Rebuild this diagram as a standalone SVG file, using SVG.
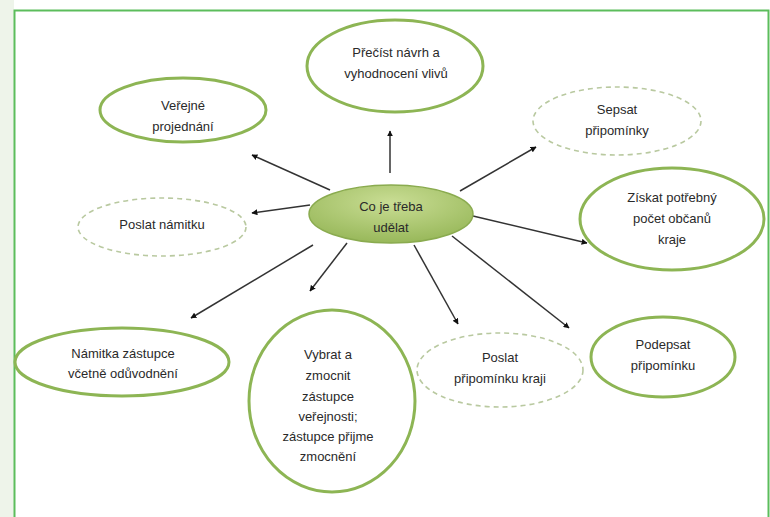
<svg xmlns="http://www.w3.org/2000/svg" width="770" height="517" viewBox="0 0 770 517">
<defs>
<style>
.t{font-family:"Liberation Sans",Arial,sans-serif;font-size:13px;fill:#2a2a2a;text-anchor:middle;}
.solid{fill:#fff;stroke:#8db554;stroke-width:3;}
.dash{fill:#fff;stroke:#b9c9a0;stroke-width:1.6;stroke-dasharray:5 4;}
.c{stroke:#333;stroke-width:1.5;fill:none;marker-end:url(#ah);}
</style>
<marker id="ah" viewBox="0 0 10 10" refX="9" refY="5" markerWidth="6" markerHeight="6" orient="auto" markerUnits="userSpaceOnUse">
<path d="M0,0 L10,5 L0,10 z" fill="#111"/>
</marker>
<radialGradient id="g" cx="50%" cy="30%" r="70%">
<stop offset="0" stop-color="#c9dd94"/>
<stop offset="1" stop-color="#98b85a"/>
</radialGradient>
</defs>
<rect x="0" y="0" width="770" height="517" fill="#fff"/>
<rect x="0" y="0" width="14" height="517" fill="#eef4ea"/>
<path d="M14.5,517 L14.5,10.5 L768.5,10.5 L768.5,517" fill="none" stroke="#5cbd5c" stroke-width="2"/>
<g id="connectors">
<line class="c" x1="330" y1="190" x2="252" y2="155"/>
<line class="c" x1="310" y1="205" x2="252" y2="213"/>
<line class="c" x1="390" y1="173" x2="390" y2="131"/>
<line class="c" x1="460" y1="191" x2="536" y2="147"/>
<line class="c" x1="473" y1="216" x2="587" y2="243"/>
<line class="c" x1="313" y1="245" x2="191" y2="318"/>
<line class="c" x1="347" y1="243" x2="310" y2="291"/>
<line class="c" x1="414" y1="245" x2="458" y2="324"/>
<line class="c" x1="452" y1="236" x2="569" y2="328"/>
</g>
<g id="center">
<ellipse cx="391" cy="214" rx="82" ry="29" fill="url(#g)" stroke="#8aab4f" stroke-width="1.5"/>
<text class="t" x="391" y="211">Co je třeba</text>
<text class="t" x="391" y="232">udělat</text>
</g>
<g id="precist">
<ellipse class="solid" cx="395" cy="66" rx="88" ry="46"/>
<text class="t" x="396" y="57">Přečíst návrh a</text>
<text class="t" x="396" y="78">vyhodnocení vlivů</text>
</g>
<g id="verejne">
<ellipse class="solid" cx="183" cy="110" rx="83" ry="32"/>
<text class="t" x="183" y="110">Veřejné</text>
<text class="t" x="183" y="131">projednání</text>
</g>
<g id="namitku">
<ellipse class="dash" cx="162" cy="227" rx="84" ry="29"/>
<text class="t" x="162" y="229">Poslat námitku</text>
</g>
<g id="sepsat">
<ellipse class="dash" cx="617" cy="121" rx="84" ry="34"/>
<text class="t" x="617" y="114">Sepsat</text>
<text class="t" x="617" y="135">připomínky</text>
</g>
<g id="ziskat">
<ellipse class="solid" cx="672" cy="219" rx="92" ry="51"/>
<text class="t" x="672" y="202">Získat potřebný</text>
<text class="t" x="672" y="223">počet občanů</text>
<text class="t" x="672" y="244">kraje</text>
</g>
<g id="namitka">
<ellipse class="solid" cx="122" cy="362" rx="107" ry="34"/>
<text class="t" x="123" y="358">Námitka zástupce</text>
<text class="t" x="123" y="378">včetně odůvodnění</text>
</g>
<g id="vybrat">
<ellipse class="solid" cx="332" cy="401" rx="83" ry="91"/>
<text class="t" x="328" y="359">Vybrat a</text>
<text class="t" x="328" y="380">zmocnit</text>
<text class="t" x="328" y="401">zástupce</text>
<text class="t" x="328" y="421">veřejnosti;</text>
<text class="t" x="328" y="441">zástupce přijme</text>
<text class="t" x="328" y="461">zmocnění</text>
</g>
<g id="poslatkraji">
<ellipse class="dash" cx="500" cy="370" rx="83" ry="37"/>
<text class="t" x="500" y="362">Poslat</text>
<text class="t" x="500" y="383">připomínku kraji</text>
</g>
<g id="podepsat">
<ellipse class="solid" cx="663" cy="357" rx="72" ry="40"/>
<text class="t" x="663" y="349">Podepsat</text>
<text class="t" x="663" y="370">připomínku</text>
</g>
</svg>
